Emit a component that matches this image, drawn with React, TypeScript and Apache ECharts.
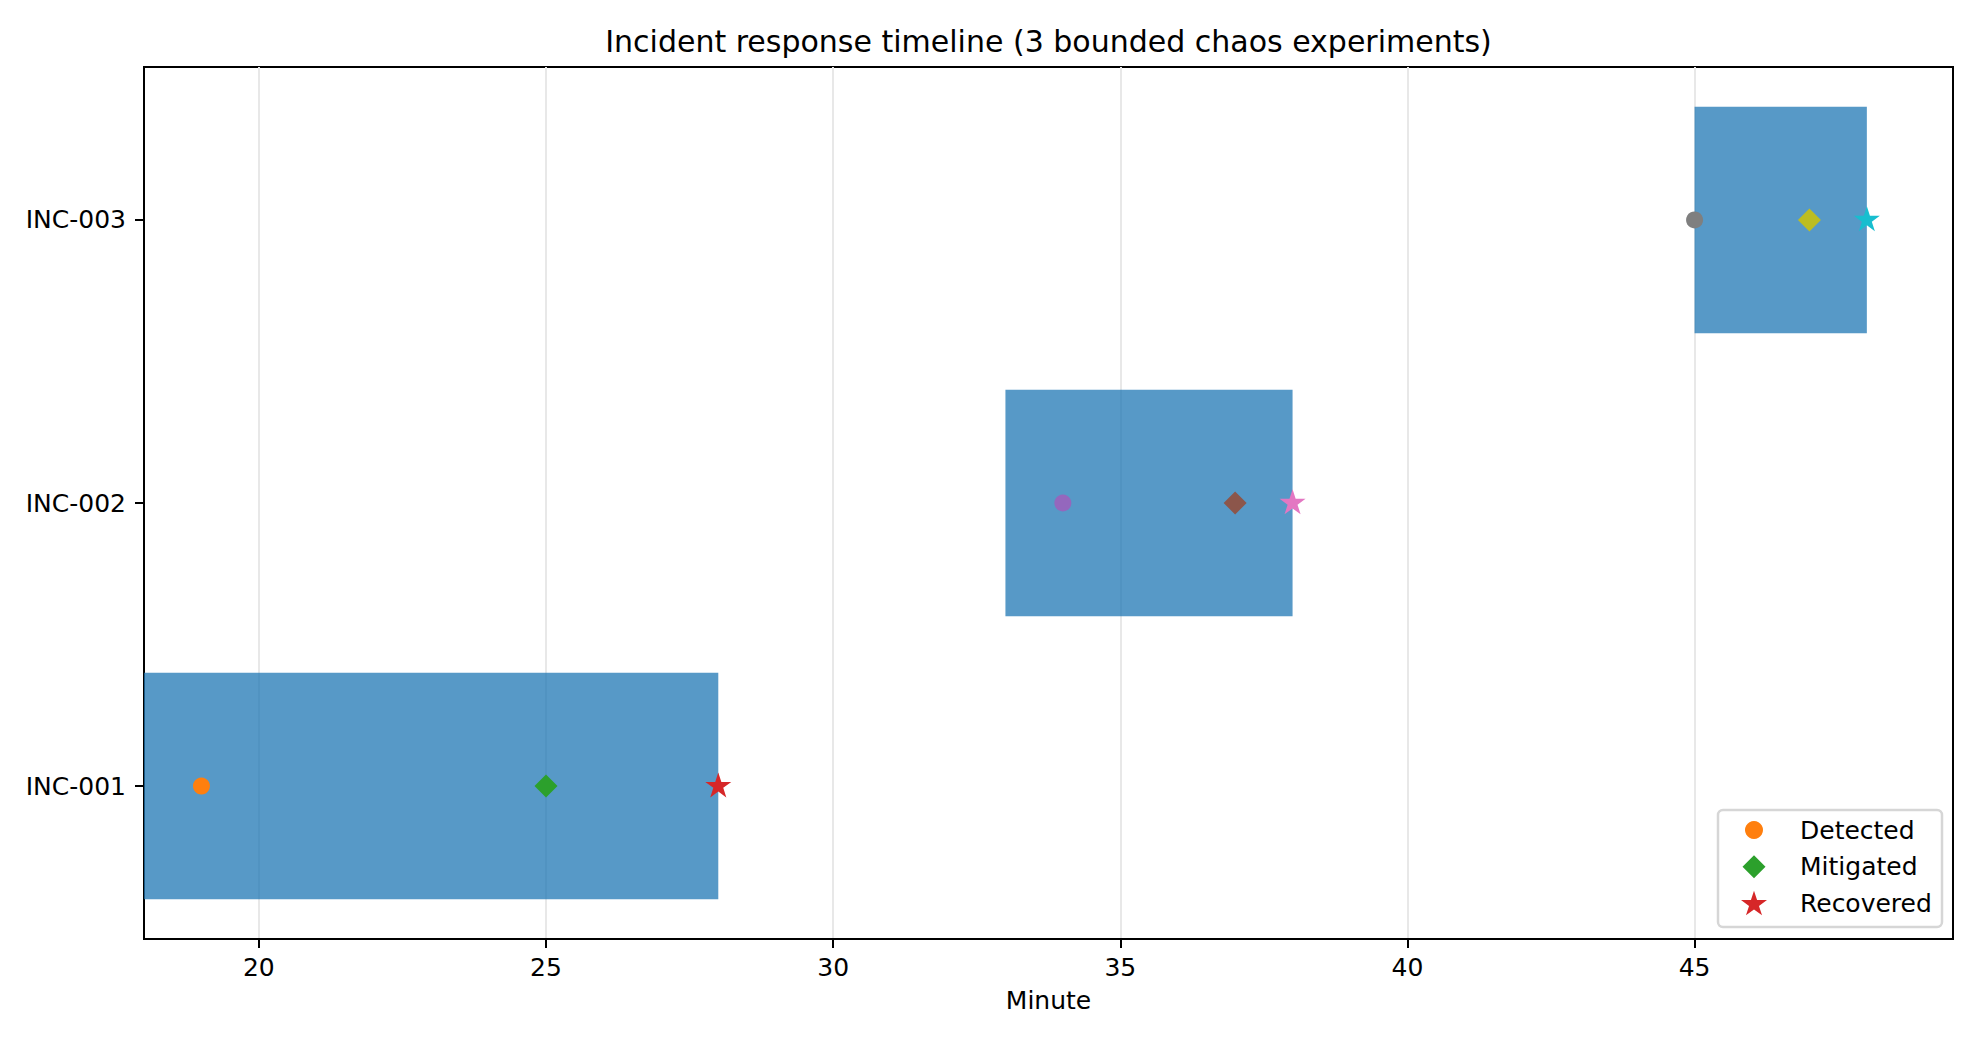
import React, { useEffect, useRef } from "react";
import * as echarts from "echarts";

// ---- data ----
const incidents = ["INC-001", "INC-002", "INC-003"];
const startMin = [18, 33, 45];
const endMin = [28, 38, 48];
const detectedMin = [19, 34, 45];
const mitigatedMin = [25, 37, 47];
const recoveredMin = [28, 38, 48];
const xTicks = [20, 25, 30, 35, 40, 45];
const yTicks = [0, 1, 2];

// ---- styles ----
const detectedColors = ["#ff7f0e", "#9467bd", "#7f7f7f"];
const mitigatedColors = ["#2ca02c", "#8c564b", "#bcbd22"];
const recoveredColors = ["#d62728", "#e377c2", "#17becf"];
const FONT = "DejaVu Sans";

function makeStarPath(): string {
  const pts: string[] = [];
  for (let k = 0; k < 10; k++) {
    const r = k % 2 === 0 ? 1 : 0.381966;
    const a = -Math.PI / 2 + (k * Math.PI) / 5;
    pts.push((r * Math.cos(a)).toFixed(4) + "," + (r * Math.sin(a)).toFixed(4));
  }
  return "path://M" + pts.join("L") + "Z";
}
const STAR = makeStarPath();

export default function App() {
  const ref = useRef<HTMLDivElement>(null);
  useEffect(() => {
    if (!ref.current) return;
    const chart = echarts.init(ref.current, null, { renderer: "svg" });
    const gridLeft = 144;
    const gridTop = 67;
    const gridRightX = 1953;
    const gridRight = 1980 - gridRightX;
    const gridBottom = 1044 - 939;

    const legendIconX = 1754;
    const textX = 1800;
    const mkLegend = (name: string, w: number, h: number, cy: number) => ({
      data: [name],
      orient: "vertical",
      left: legendIconX - w / 2,
      top: cy - 15,
      padding: 0,
      itemWidth: w,
      itemHeight: h,
      selectedMode: false,
      z: 20,
      textStyle: {
        fontFamily: FONT,
        fontSize: 25,
        color: "#000",
        lineHeight: 30,
        padding: [0, 0, 0, textX - (legendIconX + w / 2) - 5],
      },
    });

    chart.setOption({
      animation: false,
      backgroundColor: "#ffffff",
      textStyle: { fontFamily: FONT },
      title: {
        text: "Incident response timeline (3 bounded chaos experiments)",
        left: (gridLeft + gridRightX) / 2 - 5,
        top: 21,
        textAlign: "center",
        textStyle: { fontFamily: FONT, fontSize: 30, fontWeight: "normal", color: "#000" },
      },
      grid: {
        left: gridLeft,
        top: gridTop,
        right: gridRight,
        bottom: gridBottom,
        show: true,
        borderColor: "#000",
        borderWidth: 2,
        backgroundColor: "transparent",
        containLabel: false,
      },
      xAxis: {
        type: "value",
        min: 18,
        max: 49.5,
        name: "Minute",
        nameLocation: "middle",
        nameGap: 49,
        nameTextStyle: { fontFamily: FONT, fontSize: 25, color: "#000" },
        axisLine: { show: true, onZero: false, lineStyle: { color: "#000", width: 2 } },
        axisTick: { show: true, length: 9, customValues: xTicks, lineStyle: { color: "#000", width: 2 } },
        axisLabel: {
          customValues: xTicks,
          margin: 16,
          fontFamily: FONT,
          fontSize: 25,
          color: "#000",
        },
        splitLine: { show: true, lineStyle: { color: "#e8e8e8", width: 2 } },
      },
      yAxis: {
        type: "value",
        min: -0.54,
        max: 2.54,
        axisLine: { show: true, onZero: false, lineStyle: { color: "#000", width: 2 } },
        axisTick: { show: true, length: 9, customValues: yTicks, lineStyle: { color: "#000", width: 2 } },
        axisLabel: {
          customValues: yTicks,
          margin: 18,
          fontFamily: FONT,
          fontSize: 25,
          color: "#000",
          formatter: (v: number) => incidents[Math.round(v)] ?? "",
        },
        splitLine: { show: false },
      },
      legend: [
        mkLegend("Detected", 18, 18, 830),
        mkLegend("Mitigated", 23, 23, 866.7),
        mkLegend("Recovered", 26, 25, 903),
      ],
      graphic: [
        {
          type: "rect",
          z: 15,
          shape: { x: 1718, y: 810, width: 224, height: 117, r: 5 },
          style: { fill: "rgba(255,255,255,0.8)", stroke: "#d6d6d6", lineWidth: 2.5 },
        },
      ],
      series: [
        {
          type: "custom",
          name: "window",
          z: 2,
          encode: { x: [1, 2], y: 0 },
          data: incidents.map((_, i) => [i, startMin[i], endMin[i]]),
          renderItem: (params: any, api: any) => {
            const y = api.value(0);
            const s = api.value(1);
            const e = api.value(2);
            const p0 = api.coord([s, y + 0.4]);
            const p1 = api.coord([e, y - 0.4]);
            return {
              type: "rect",
              shape: { x: p0[0], y: p0[1], width: p1[0] - p0[0], height: p1[1] - p0[1] },
              style: { fill: "rgba(31,119,180,0.75)" },
            };
          },
        },
        {
          type: "scatter",
          name: "Detected",
          z: 5,
          symbol: "circle",
          symbolSize: 17,
          itemStyle: { color: detectedColors[0], opacity: 1 },
          data: detectedMin.map((x, i) => ({ value: [x, i], itemStyle: { color: detectedColors[i] } })),
        },
        {
          type: "scatter",
          name: "Mitigated",
          z: 5,
          symbol: "diamond",
          symbolSize: 23,
          itemStyle: { color: mitigatedColors[0], opacity: 1 },
          data: mitigatedMin.map((x, i) => ({ value: [x, i], itemStyle: { color: mitigatedColors[i] } })),
        },
        {
          type: "scatter",
          name: "Recovered",
          z: 5,
          symbol: STAR,
          symbolSize: [26, 25],
          symbolOffset: [0, -1.2],
          itemStyle: { color: recoveredColors[0], opacity: 1 },
          data: recoveredMin.map((x, i) => ({ value: [x, i], itemStyle: { color: recoveredColors[i] } })),
        },
      ],
    });
    return () => chart.dispose();
  }, []);
  return (
    <div
      ref={ref}
      style={{ position: "fixed", left: 0, top: 0, width: 1980, height: 1044, background: "#fff" }}
    />
  );
}
